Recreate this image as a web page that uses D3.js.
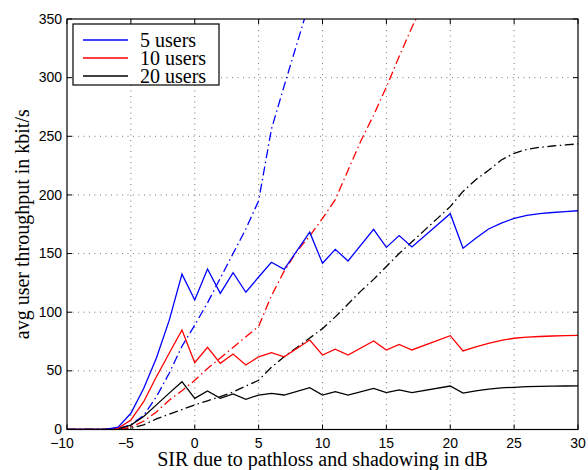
<!DOCTYPE html>
<html><head><meta charset="utf-8">
<script src="https://cdn.jsdelivr.net/npm/d3@7"></script>
<style>
html,body{margin:0;padding:0;background:#fff;}
svg{display:block;}
</style></head>
<body>
<svg id="chart" width="588" height="470"></svg>
<script>
// ---------- data ----------
const xTicks = [-10, -5, 0, 5, 10, 15, 20, 25, 30];
const yTicks = [0, 50, 100, 150, 200, 250, 300, 350];
const seriesNames = ["5 users", "10 users", "20 users"];
const seriesColors = ["#0000ff", "#ff0000", "#000000"];

// solid lines (measured points)
const xSolid = [-10,-9,-8,-7,-6,-5,-4,-3,-2,-1,0,1,2,3,4,5,6,7,9,10,11,12,14,15,16,17,20,21,22,23,24,25,26,27,28,29,30];
const solid5  = [0,0,0,0,2,13.8,35,61,93,132.5,110.4,136.9,116.1,133.7,117,130,142.6,136.6,168.2,141.7,153.6,143.7,170.7,155.3,165.3,155.6,184,154.5,163,171,176,180,182.5,184,185,185.7,186.5];
const solid10 = [0,0,0,0,1,8.1,23.7,45,65,84.8,57,70,56.4,64.4,55,62,65.5,62,76.3,63.5,68.4,63.5,75.5,67.8,72.6,67.8,80,67,70.5,73.5,76,77.8,78.8,79.3,79.7,80,80.2];
const solid20 = [0,0,0,0,0.5,3.8,11,21,31,40.8,26.6,32.8,26.6,30.3,25.7,29.4,30.8,29.4,35.6,29.4,32.2,29.4,35.1,31.4,33.7,31.4,37.1,31,33,34.5,35.5,36,36.5,36.8,37,37.1,37.2];

// dash-dot lines
const xDash = [-10,-9,-8,-7,-6,-5,-4,-3,-2,-1,0,1,2,3,4,5,6,7,8,9,10,11,12,13,14,15,16,17,18,19,20,21,22,23,24,25,26,27,28,29,30];
const dash5  = [0,0,0,0,0.5,4,12,28,48,71,89,108,129,150,171,195,256,293,329,365,400,435,470,505,540,575,610,645,680,715,750,785,820,855,890,925,960,995,1030,1065,1100];
const dash10 = [0,0,0,0,0,2,7,15,25,33,42,52,61,70,79,88,114,135,152,165,180,196,221,246,268,292,318,343,365,390,415,440,465,490,515,540,565,590,615,640,665];
const dash20 = [0,0,0,0,0,1,4,9,13,17,21,24.5,28,32,37,42,53,62,70,78,86,96,107,118,128,139,150,160,170,180,190,203,213,221,229.8,235.5,238.8,240.6,241.7,242.6,243.5];

// ---------- layout ----------
const W = 588, H = 470;
const L = 67, R = 578, T = 19, B = 429.5;
const svg = d3.select("#chart");

const x = d3.scaleLinear().domain([-10, 30]).range([L, R]);
const y = d3.scaleLinear().domain([0, 350]).range([B, T]);

// clip
svg.append("defs").append("clipPath").attr("id","clip")
  .append("rect").attr("x", L).attr("y", T).attr("width", R-L).attr("height", B-T);

// grid
const grid = svg.append("g");
grid.selectAll(".gx").data(xTicks.slice(1, -1)).join("line")
  .attr("x1", d => x(d)).attr("x2", d => x(d)).attr("y1", T).attr("y2", B)
  .attr("stroke", "#555").attr("stroke-width", 0.8).attr("stroke-dasharray", "1,4.5");
grid.selectAll(".gy").data(yTicks.slice(1, -1)).join("line")
  .attr("y1", d => y(d)).attr("y2", d => y(d)).attr("x1", L).attr("x2", R)
  .attr("stroke", "#555").attr("stroke-width", 0.8).attr("stroke-dasharray", "1,4.5");

// lines
const plot = svg.append("g").attr("clip-path", "url(#clip)");
const dashSets = [dash5, dash10, dash20];
const solidSets = [solid5, solid10, solid20];
const lineGen = (xs) => d3.line().x((d, i) => x(xs[i])).y(d => y(d));

[2,1,0].forEach(k => {
  plot.append("path").datum(dashSets[k])
    .attr("d", lineGen(xDash))
    .attr("fill", "none").attr("stroke", seriesColors[k]).attr("stroke-width", 1.3)
    .attr("stroke-dasharray", "9,3.5,1.5,3.5");
});
[2,1,0].forEach(k => {
  plot.append("path").datum(solidSets[k])
    .attr("d", lineGen(xSolid))
    .attr("fill", "none").attr("stroke", seriesColors[k]).attr("stroke-width", 1.3)
    .attr("stroke-linejoin", "miter");
});

// axes box
svg.append("rect").attr("x", L).attr("y", T).attr("width", R-L).attr("height", B-T)
  .attr("fill", "none").attr("stroke", "#000").attr("stroke-width", 1.2);

// ticks (inward) all four sides
const tk = 5;
const axG = svg.append("g").attr("stroke", "#000").attr("stroke-width", 1);
axG.selectAll(".tb").data(xTicks).join("line")
  .attr("x1", d => x(d)).attr("x2", d => x(d)).attr("y1", B).attr("y2", B - tk);
axG.selectAll(".tt").data(xTicks).join("line")
  .attr("x1", d => x(d)).attr("x2", d => x(d)).attr("y1", T).attr("y2", T + tk);
axG.selectAll(".tl").data(yTicks).join("line")
  .attr("y1", d => y(d)).attr("y2", d => y(d)).attr("x1", L).attr("x2", L + tk);
axG.selectAll(".tr").data(yTicks).join("line")
  .attr("y1", d => y(d)).attr("y2", d => y(d)).attr("x1", R).attr("x2", R - tk);

const fmt = d3.format("d");
// tick labels
svg.append("g").selectAll("text").data(xTicks).join("text")
  .attr("x", d => x(d) + (d < 0 ? -5 : 0)).attr("y", 447.5)
  .attr("text-anchor", "middle")
  .attr("font-family", "Liberation Sans, Arial, sans-serif").attr("font-size", 14)
  .text(d => fmt(d));
svg.append("g").selectAll("text").data(yTicks).join("text")
  .attr("x", 62).attr("y", d => y(d)).attr("dy", "0.33em")
  .attr("text-anchor", "end")
  .attr("font-family", "Liberation Sans, Arial, sans-serif").attr("font-size", 14)
  .text(d => fmt(d));

// axis titles
svg.append("text").attr("x", (L + R) / 2).attr("y", 466)
  .attr("text-anchor", "middle")
  .attr("font-family", "Liberation Serif, Times New Roman, serif").attr("font-size", 20)
  .text("SIR due to pathloss and shadowing in dB");
svg.append("text")
  .attr("transform", `translate(29, ${(T + B) / 2}) rotate(-90)`)
  .attr("text-anchor", "middle")
  .attr("font-family", "Liberation Serif, Times New Roman, serif").attr("font-size", 20)
  .text("avg user throughput in kbit/s");

// legend
const lg = svg.append("g");
lg.append("rect").attr("x", 73).attr("y", 24).attr("width", 146).attr("height", 61)
  .attr("fill", "#fff").attr("stroke", "#000").attr("stroke-width", 1.2);
seriesNames.forEach((name, i) => {
  const yy = 40 + i * 18;
  lg.append("line").attr("x1", 83).attr("x2", 128).attr("y1", yy).attr("y2", yy)
    .attr("stroke", seriesColors[i]).attr("stroke-width", 1.3);
  lg.append("text").attr("x", 140).attr("y", yy).attr("dy", "0.33em")
    .attr("font-family", "Liberation Serif, Times New Roman, serif").attr("font-size", 20)
    .text(name);
});
</script>
</body></html>
